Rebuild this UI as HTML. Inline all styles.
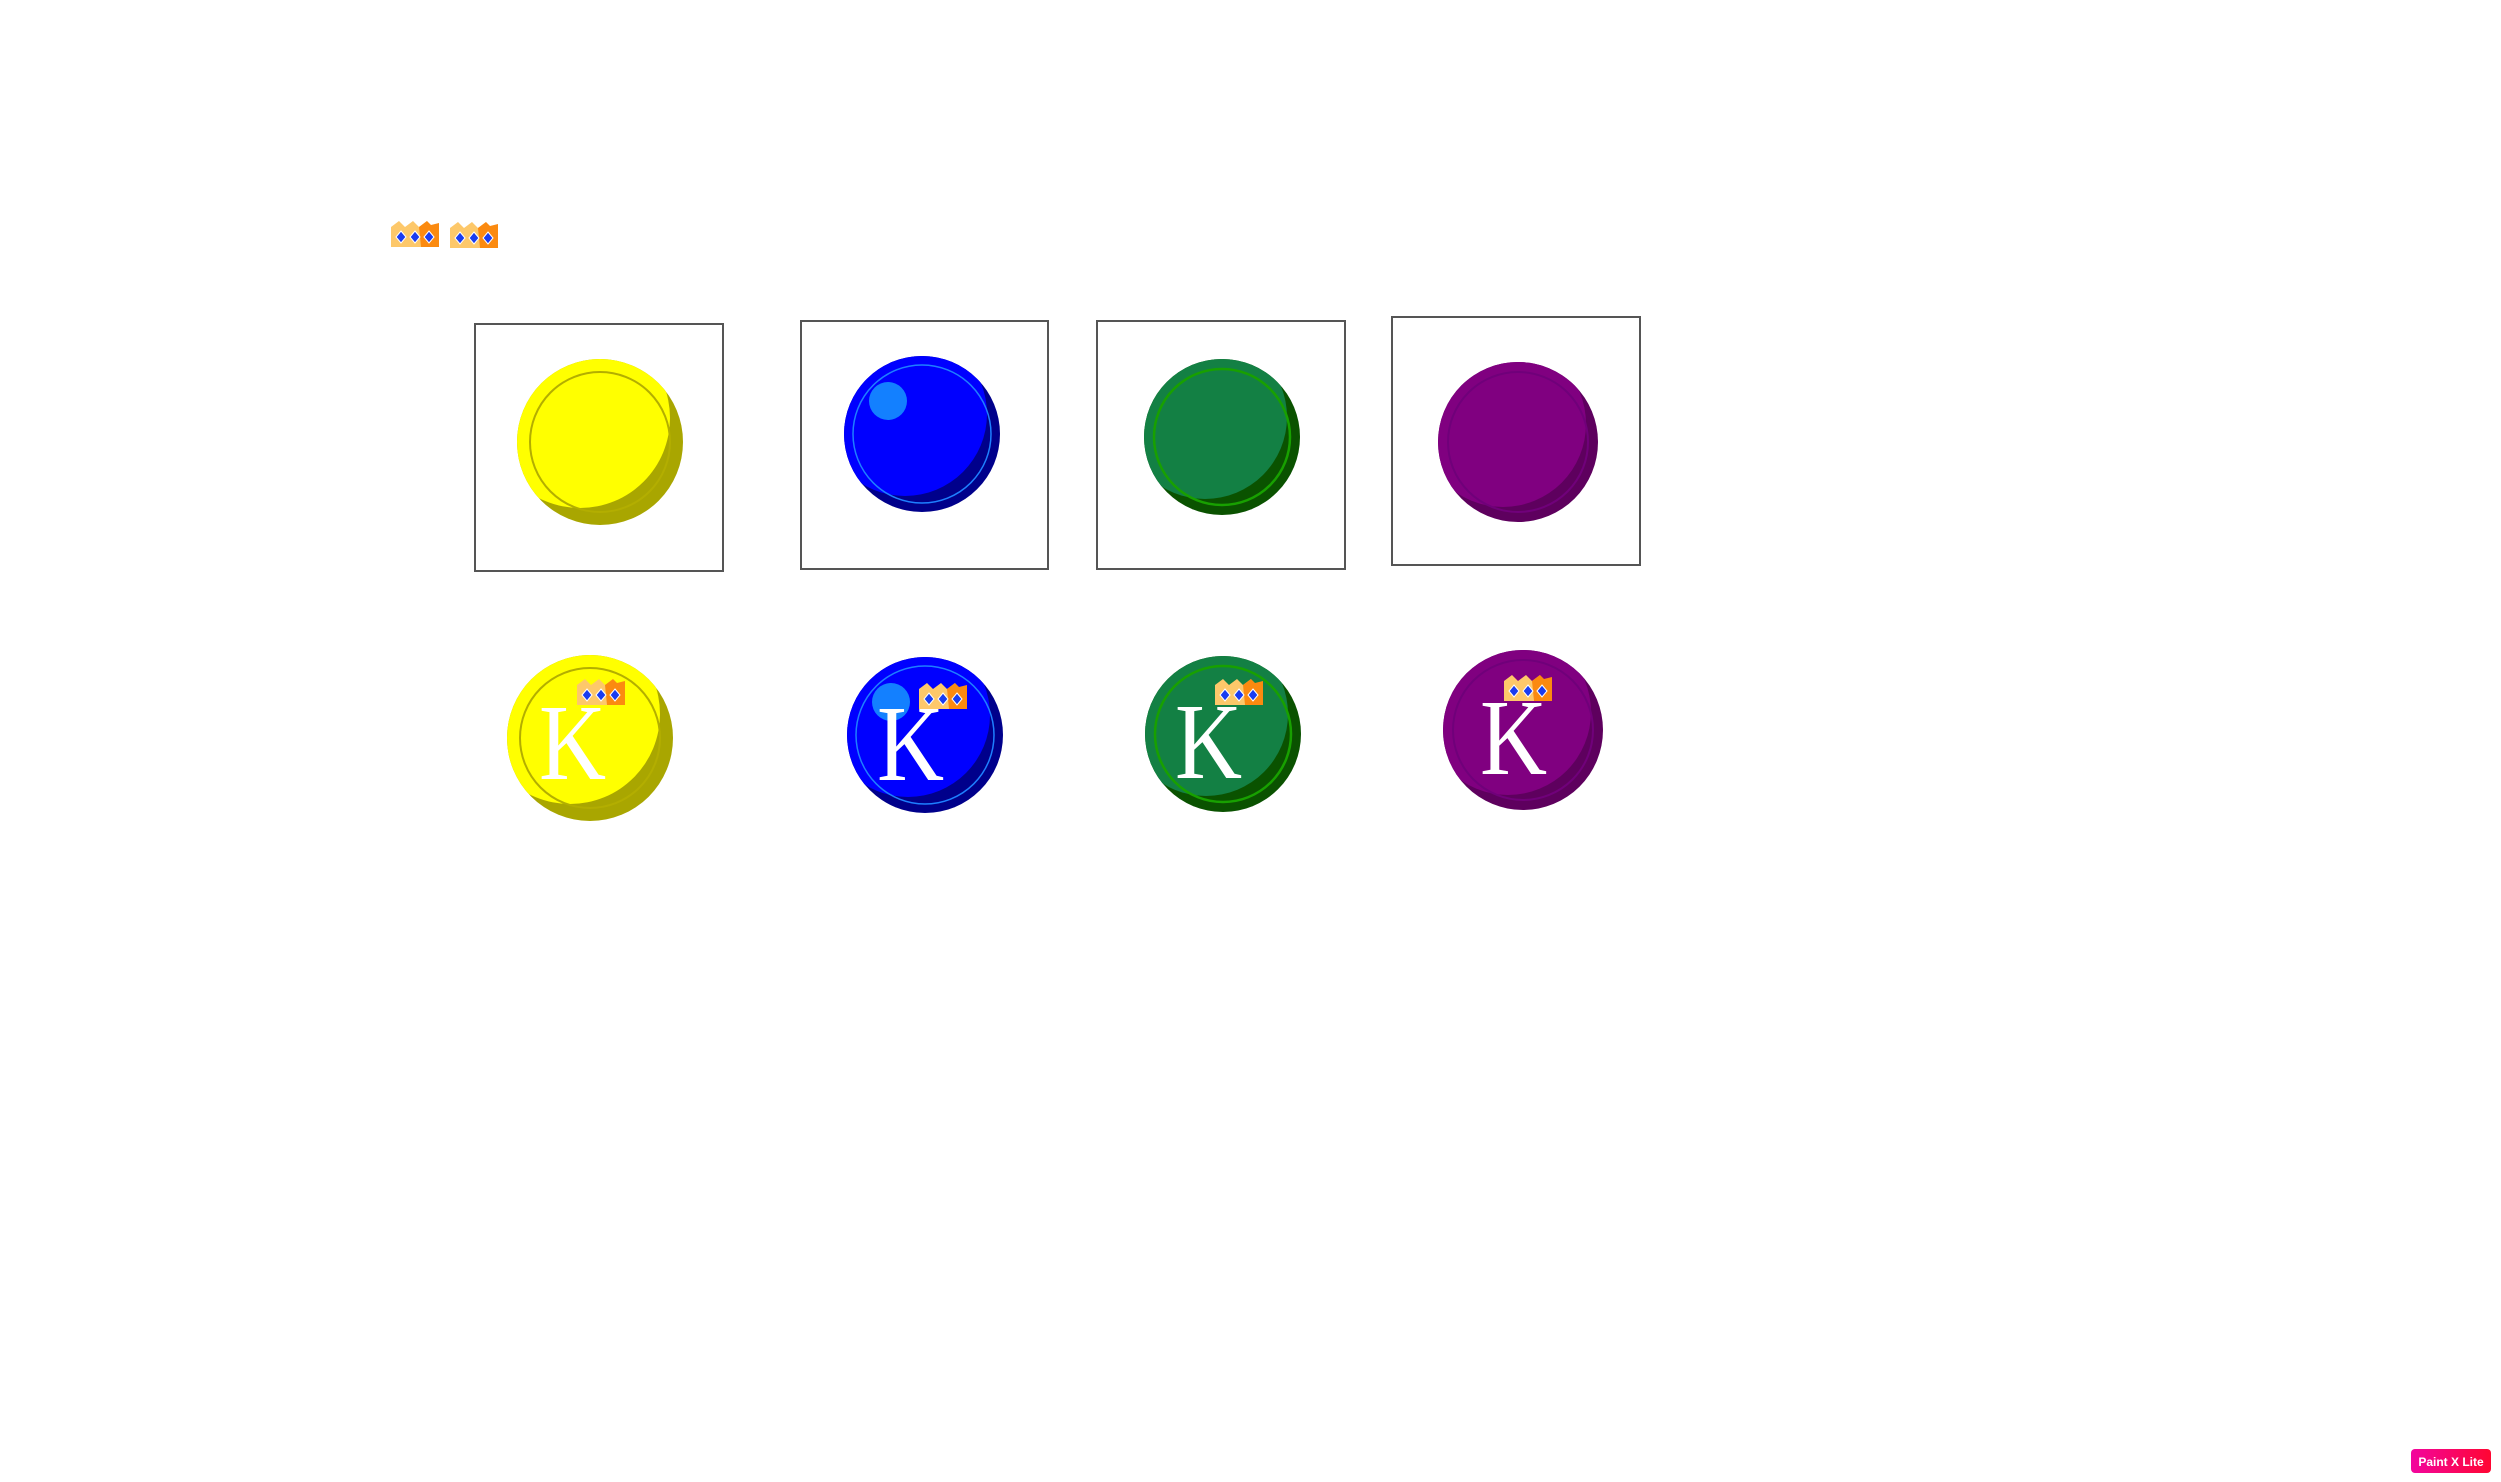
<!DOCTYPE html>
<html><head><meta charset="utf-8"><style>
html,body{margin:0;padding:0;background:#fff;}
svg{display:block;}
</style></head><body>
<svg width="2501" height="1482" viewBox="0 0 2501 1482" xmlns="http://www.w3.org/2000/svg">
<defs>
  <g id="crown">
    <path d="M0,6 L8,0 L14,6 L22,0 L28,6 L36,0 L36,26 L0,26 Z" fill="#fdc86a"/>
    <path d="M28,6 L36,0 L40,4 L48,2 L48,26 L30,26 Z" fill="#fb8a10"/>
    <g fill="#1a3cf0" stroke="#fff" stroke-width="1">
      <path d="M10,10 L15,16 L10,22 L5,16 Z"/>
      <path d="M24,10 L29,16 L24,22 L19,16 Z"/>
      <path d="M38,10 L43,16 L38,22 L33,16 Z"/>
    </g>
  </g>
  <clipPath id="c1"><circle cx="600" cy="442" r="83"/></clipPath>
  <clipPath id="c2"><circle cx="922" cy="434" r="78"/></clipPath>
  <clipPath id="c3"><circle cx="1222" cy="437" r="78"/></clipPath>
  <clipPath id="c4"><circle cx="1518" cy="442" r="80"/></clipPath>
  <clipPath id="c5"><circle cx="590" cy="738" r="83"/></clipPath>
  <clipPath id="c6"><circle cx="925" cy="735" r="78"/></clipPath>
  <clipPath id="c7"><circle cx="1223" cy="734" r="78"/></clipPath>
  <clipPath id="c8"><circle cx="1523" cy="730" r="80"/></clipPath>
</defs>

<use href="#crown" x="391" y="221"/>
<use href="#crown" x="450" y="222"/>

<rect x="475" y="324" width="248" height="247" fill="none" stroke="#555" stroke-width="2"/>
<rect x="801" y="321" width="247" height="248" fill="none" stroke="#555" stroke-width="2"/>
<rect x="1097" y="321" width="248" height="248" fill="none" stroke="#555" stroke-width="2"/>
<rect x="1392" y="317" width="248" height="248" fill="none" stroke="#555" stroke-width="2"/>

<g>
  <circle cx="600" cy="442" r="83" fill="#a9a600"/>
  <circle cx="580" cy="418" r="90" fill="#ffff00" clip-path="url(#c1)"/>
  <circle cx="600" cy="442" r="70" fill="none" stroke="#b3ae00" stroke-width="2"/>
</g>
<g>
  <circle cx="922" cy="434" r="78" fill="#00008b"/>
  <circle cx="905" cy="414" r="82" fill="#0000ff" clip-path="url(#c2)"/>
  <circle cx="922" cy="434" r="69" fill="none" stroke="#1e7fff" stroke-width="1.5"/>
  <circle cx="888" cy="401" r="19" fill="#1380ff"/>
</g>
<g>
  <circle cx="1222" cy="437" r="78" fill="#0a5200"/>
  <circle cx="1205" cy="417" r="82" fill="#138044" clip-path="url(#c3)"/>
  <circle cx="1222" cy="437" r="68" fill="none" stroke="#18a000" stroke-width="2.5"/>
</g>
<g>
  <circle cx="1518" cy="442" r="80" fill="#5e005e"/>
  <circle cx="1503" cy="424" r="83" fill="#800080" clip-path="url(#c4)"/>
  <circle cx="1518" cy="442" r="70" fill="none" stroke="#70007a" stroke-width="2"/>
</g>

<g>
  <circle cx="590" cy="738" r="83" fill="#a9a600"/>
  <circle cx="570" cy="714" r="90" fill="#ffff00" clip-path="url(#c5)"/>
  <circle cx="590" cy="738" r="70" fill="none" stroke="#b3ae00" stroke-width="2"/>
  <text x="0" y="0" transform="translate(539,779) scale(0.86,1)" font-family="Liberation Serif, serif" font-size="108" fill="#fff">K</text>
  <use href="#crown" x="577" y="679"/>
</g>
<g>
  <circle cx="925" cy="735" r="78" fill="#00008b"/>
  <circle cx="908" cy="715" r="82" fill="#0000ff" clip-path="url(#c6)"/>
  <circle cx="925" cy="735" r="69" fill="none" stroke="#1e7fff" stroke-width="1.5"/>
  <circle cx="891" cy="702" r="19" fill="#1380ff"/>
  <text x="0" y="0" transform="translate(877,780) scale(0.86,1)" font-family="Liberation Serif, serif" font-size="108" fill="#fff">K</text>
  <use href="#crown" x="919" y="683"/>
</g>
<g>
  <circle cx="1223" cy="734" r="78" fill="#0a5200"/>
  <circle cx="1206" cy="714" r="82" fill="#138044" clip-path="url(#c7)"/>
  <circle cx="1223" cy="734" r="68" fill="none" stroke="#18a000" stroke-width="2.5"/>
  <text x="0" y="0" transform="translate(1175,778) scale(0.86,1)" font-family="Liberation Serif, serif" font-size="108" fill="#fff">K</text>
  <use href="#crown" x="1215" y="679"/>
</g>
<g>
  <circle cx="1523" cy="730" r="80" fill="#5e005e"/>
  <circle cx="1508" cy="712" r="83" fill="#800080" clip-path="url(#c8)"/>
  <circle cx="1523" cy="730" r="70" fill="none" stroke="#70007a" stroke-width="2"/>
  <text x="0" y="0" transform="translate(1480,774) scale(0.86,1)" font-family="Liberation Serif, serif" font-size="108" fill="#fff">K</text>
  <use href="#crown" x="1504" y="675"/>
</g>

<defs><linearGradient id="bg" x1="0" x2="1"><stop offset="0" stop-color="#f2069e"/><stop offset="1" stop-color="#ff0632"/></linearGradient></defs>
<g>
  <rect x="2411" y="1449" width="80" height="24" rx="4" fill="url(#bg)"/>
  <text x="2451" y="1466" text-anchor="middle" font-family="Liberation Sans, sans-serif" font-weight="bold" font-size="12" fill="#fff">Paint X Lite</text>
</g>
</svg>
</body></html>
